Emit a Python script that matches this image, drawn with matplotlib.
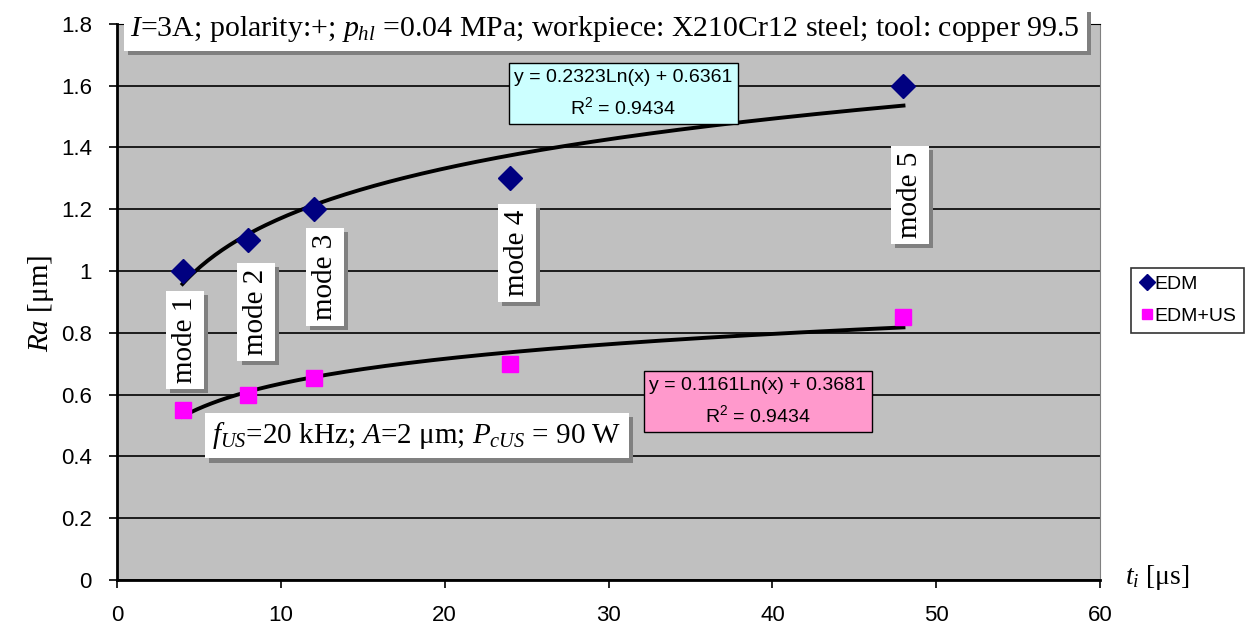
import numpy as np
import matplotlib
matplotlib.use("Agg")
import matplotlib.pyplot as plt
import matplotlib.patheffects as pe
from matplotlib.ticker import FuncFormatter

plt.rcParams['mathtext.fontset'] = 'custom'
plt.rcParams['mathtext.rm'] = 'Liberation Serif'
plt.rcParams['mathtext.it'] = 'Liberation Serif:italic'

# data
ti = [4, 8, 12, 24, 48]
ra_edm = [1.0, 1.1, 1.2, 1.3, 1.6]
ra_edm_us = [0.55, 0.60, 0.655, 0.70, 0.85]
modes = ['mode 1', 'mode 2', 'mode 3', 'mode 4', 'mode 5']
# log trend coefficients as printed on the chart
fit_edm = (0.2323, 0.6361)
fit_us = (0.1161, 0.3681)
r2_edm = 0.9434
r2_us = 0.9434

serif = 'Liberation Serif'
sans = 'Liberation Sans'

fig = plt.figure(figsize=(12.46, 6.32), dpi=100)
ax = fig.add_axes([0.0939, 0.0823, 0.789, 0.880])
ax.set_facecolor('#C0C0C0')
ax.set_xlim(0, 60)
ax.set_ylim(0, 1.8)
ax.set_xticks(range(0, 61, 10))
ax.set_yticks(np.arange(0, 1.81, 0.2))
ax.yaxis.set_major_formatter(FuncFormatter(lambda v, p: '%g' % round(v, 1)))
ax.grid(axis='y', color='black', lw=1.2)
ax.set_axisbelow(True)
ax.tick_params(direction='out', length=6, width=1.2, labelsize=16, pad=12)
for lab in ax.get_xticklabels() + ax.get_yticklabels():
    lab.set_fontfamily(sans)
ax.spines['left'].set_linewidth(2)
ax.spines['bottom'].set_linewidth(2)
ax.spines['right'].set_color('#808080')
ax.spines['top'].set_color('black')

# trend lines
xf = np.linspace(min(ti), max(ti), 200)
ax.plot(xf, fit_edm[0] * np.log(xf) + fit_edm[1], color='black', lw=2.8, zorder=3)
ax.plot(xf, fit_us[0] * np.log(xf) + fit_us[1], color='black', lw=2.8, zorder=3)

ax.plot(ti, ra_edm, 'D', color='#000080', ms=12, label='EDM', zorder=4)
ax.plot(ti, ra_edm_us, 's', color='#FF00FF', ms=11, label='EDM+US', zorder=4)

shadow = [pe.withSimplePatchShadow(offset=(3, -3), shadow_rgbFace='#808080', alpha=1)]

def box(t):
    t.get_bbox_patch().set_path_effects(shadow)
    return t

mode_pos = [(4.15, 0.776), (8.5, 0.867), (12.7, 0.982), (24.4, 1.058), (48.4, 1.245)]
for (mx, my), m in zip(mode_pos, modes):
    box(ax.text(mx, my, m, rotation=90, ha='center', va='center', fontsize=21,
                family=serif, zorder=5,
                bbox=dict(boxstyle='square,pad=0.2', fc='white', ec='none')))

box(ax.text(29.8, 1.783,
            '$I$=3A; polarity:+; $p_{hl}$ =0.04 MPa; workpiece: X210Cr12 steel; tool: copper 99.5',
            ha='center', va='center', fontsize=21.5, family=serif, zorder=5,
            bbox=dict(boxstyle='square,pad=0.22', fc='white', ec='none')))

box(ax.text(18.3, 0.467, '$f_{US}$=20 kHz; $A$=2 μm; $P_{cUS}$ = 90 W',
            ha='center', va='center', fontsize=21, family=serif, zorder=5,
            bbox=dict(boxstyle='square,pad=0.25', fc='white', ec='none')))

ax.text(30.9, 1.575,
        'y = %.4fLn(x) + %.4f\n$\\mathregular{R^2}$ = %.4f' % (fit_edm[0], fit_edm[1], r2_edm),
        ha='center', va='center', fontsize=14, family=sans, zorder=5, linespacing=1.6,
        bbox=dict(boxstyle='square,pad=0.28', fc='#CCFFFF', ec='black', lw=1))
ax.text(39.1, 0.577,
        'y = %.4fLn(x) + %.4f\n$\\mathregular{R^2}$ = %.4f' % (fit_us[0], fit_us[1], r2_us),
        ha='center', va='center', fontsize=14, family=sans, zorder=5, linespacing=1.6,
        bbox=dict(boxstyle='square,pad=0.28', fc='#FF99CC', ec='black', lw=1))

fig.text(0.033, 0.52, '$\\mathit{Ra}$ [μm]', rotation=90, ha='center', va='center',
         fontsize=21, family=serif)
fig.text(0.929, 0.087, '$t_i$ [μs]', ha='center', va='center', fontsize=20, family=serif)

leg = ax.legend(loc='center left', bbox_to_anchor=(0.908, 0.525), bbox_transform=fig.transFigure,
                prop={'family': sans, 'size': 14}, frameon=True, fancybox=False,
                handletextpad=0.0, handlelength=0.8, borderpad=0.4, labelspacing=0.75,
                borderaxespad=0, markerscale=0.7)
leg.get_frame().set_edgecolor('black')
leg.get_frame().set_linewidth(1.2)

fig.savefig('out.png', dpi=100)
